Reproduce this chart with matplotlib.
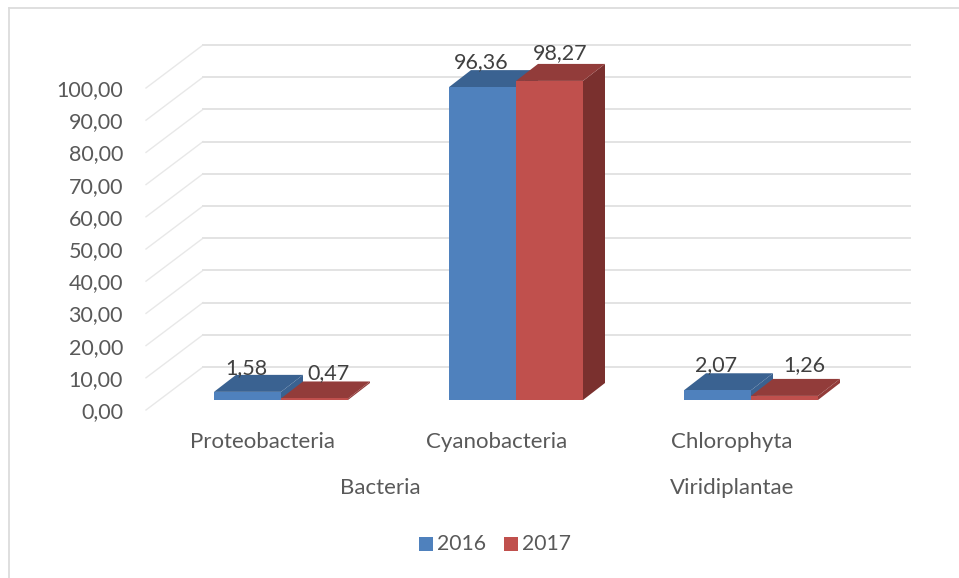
import matplotlib
matplotlib.use('Agg')
import matplotlib.pyplot as plt
from matplotlib.patches import Polygon, Rectangle

plt.rcParams['font.family'] = ['Lato', 'DejaVu Sans']

# data
categories = ['Proteobacteria', 'Cyanobacteria', 'Chlorophyta']
groups = ['Bacteria', 'Viridiplantae']
years = ['2016', '2017']
values_2016 = [1.58, 96.36, 2.07]
values_2017 = [0.47, 98.27, 1.26]
labels_2016 = ['1,58', '96,36', '2,07']
labels_2017 = ['0,47', '98,27', '1,26']
yticks = [0, 10, 20, 30, 40, 50, 60, 70, 80, 90, 100]

W, H = 959, 578
fig = plt.figure(figsize=(W / 100, H / 100), dpi=100)
ax = fig.add_axes([0, 0, 1, 1])
ax.set_xlim(0, W)
ax.set_ylim(H, 0)
ax.axis('off')

BLUE, BLUE_TOP, BLUE_SIDE = '#4f81bd', '#3a6291', '#2f4f75'
RED, RED_TOP, RED_SIDE = '#c0504d', '#923c3a', '#7a302e'
GRID = '#e3e3e3'
TEXT = '#595959'
LABEL = '#404040'

# chart frame
ax.plot([9, 9], [8, H], color='#dcdcdc', lw=1.3)
ax.plot([9, 959], [8, 8], color='#dcdcdc', lw=1.3)

# walls, front edge x0 / y0 with depth going to the back
x0, y0 = 146, 410
wall_dx, wall_dy = 57, -43
x_right = 910
scale = 3.22


def wall_y(v):
    return y0 - v * scale


for t in yticks:
    yy = wall_y(t)
    ax.plot([x0, x0 + wall_dx], [yy, yy + wall_dy], color='#e8e8e8', lw=1, zorder=1)
    ax.plot([x0 + wall_dx, x_right], [yy + wall_dy, yy + wall_dy], color=GRID, lw=1.4, zorder=1)
    ax.text(123, yy + 2, f'{t},00', ha='right', va='center', fontsize=15.5, color=TEXT, zorder=5)

# bars
bar_base = 400
bar_scale = 3.247
bar_w = 67
bar_dx, bar_dy = 22, -17
starts = [214, 449, 684]
# label offsets from the bar's top corner
blue_lx = [32, 32, 32]
red_lx = [48, 44, 53]
blue_ly = [-24, -25, -25]
red_ly = [-25, -28, -31]


def draw_bar(x, v, front, top, side):
    h = v * bar_scale
    if v < 5:
        # thin bars show no side face, and the 3D view rounds them up
        side = top
        if v > 1.5:
            h = h + 3
    yt = bar_base - h
    ax.add_patch(Polygon([(x + bar_w, bar_base), (x + bar_w + bar_dx, bar_base + bar_dy),
                          (x + bar_w + bar_dx, yt + bar_dy), (x + bar_w, yt)],
                         closed=True, fc=side, ec='none', zorder=3))
    ax.add_patch(Polygon([(x, yt), (x + bar_dx, yt + bar_dy), (x + bar_w + bar_dx, yt + bar_dy),
                          (x + bar_w, yt)], closed=True, fc=top, ec='none', zorder=3))
    ax.add_patch(Rectangle((x, yt), bar_w, h, fc=front, ec='none', zorder=3))
    return yt


for i, c in enumerate(categories):
    x = starts[i]
    yt = draw_bar(x, values_2016[i], BLUE, BLUE_TOP, BLUE_SIDE)
    ax.text(x + blue_lx[i], yt + blue_ly[i], labels_2016[i], ha='center', va='center',
            fontsize=15.5, color=LABEL, zorder=6)
    yt = draw_bar(x + bar_w, values_2017[i], RED, RED_TOP, RED_SIDE)
    ax.text(x + bar_w + red_lx[i], yt + red_ly[i], labels_2017[i], ha='center', va='center',
            fontsize=15.5, color=LABEL, zorder=6)

# axis labels
for c, xc in zip(categories, [263, 497, 732]):
    ax.text(xc, 442, c, ha='center', va='center', fontsize=16, color=TEXT)
for g, xc in zip(groups, [380, 732]):
    ax.text(xc, 488, g, ha='center', va='center', fontsize=16, color=TEXT)

# legend
ax.add_patch(Rectangle((419, 537), 14, 14, fc=BLUE, ec='none'))
ax.text(437, 544, years[0], ha='left', va='center', fontsize=15.2, color=TEXT)
ax.add_patch(Rectangle((504, 537), 14, 14, fc=RED, ec='none'))
ax.text(522, 544, years[1], ha='left', va='center', fontsize=15.2, color=TEXT)

fig.savefig('out.png', dpi=100)
